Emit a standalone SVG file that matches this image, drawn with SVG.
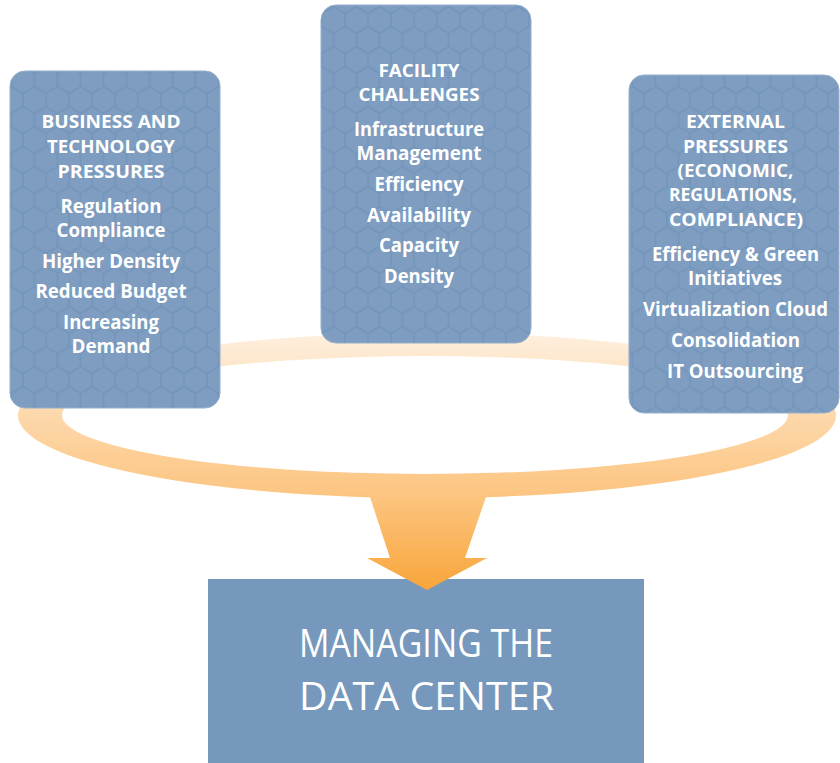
<svg xmlns="http://www.w3.org/2000/svg" xmlns:xlink="http://www.w3.org/1999/xlink" width="840" height="763" viewBox="0 0 840 763">
<defs>
<style>
.box{fill:#7697bc;stroke:#93adcc;stroke-width:1}
.hexfill{fill:url(#hexes)}
.h{font-family:"Open Sans",Lato,"Liberation Sans",sans-serif;font-weight:700;font-size:18px;fill:#ffffff;text-anchor:middle}
.t{font-family:"Open Sans",Lato,"Liberation Sans",sans-serif;font-weight:700;font-size:19px;fill:#ffffff;text-anchor:middle}
.big{font-family:"Open Sans","Liberation Sans",sans-serif;font-weight:400;font-size:38px;fill:#ffffff;text-anchor:middle}
</style>
<path id="hx" d="M0,-12 L10.4,-6 L10.4,6 L0,12 L-10.4,6 L-10.4,-6 Z" fill="#ffffff" fill-opacity="0.06"/>
<pattern id="hexes" patternUnits="userSpaceOnUse" width="23" height="40" x="0" y="0">
<use xlink:href="#hx" x="0" y="0"/><use xlink:href="#hx" x="23" y="0"/>
<use xlink:href="#hx" x="0" y="40"/><use xlink:href="#hx" x="23" y="40"/>
<use xlink:href="#hx" x="11.5" y="20"/>
</pattern>
<linearGradient id="ringGrad" gradientUnits="userSpaceOnUse" x1="0" y1="333" x2="0" y2="498">
<stop offset="0" stop-color="#feefde"/>
<stop offset="0.5" stop-color="#fdd8ab"/>
<stop offset="1" stop-color="#fcc47f"/>
</linearGradient>
<linearGradient id="arrowGrad" gradientUnits="userSpaceOnUse" x1="0" y1="495" x2="0" y2="590">
<stop offset="0" stop-color="#fcc580"/>
<stop offset="1" stop-color="#f9a53a"/>
</linearGradient>
</defs>

<g id="node-datacenter">
<rect x="208" y="579" width="436" height="184" fill="#7698bc"/>
<text class="big" x="426" y="657" textLength="254" lengthAdjust="spacingAndGlyphs">MANAGING THE</text>
<text class="big" x="426.5" y="710" textLength="255" lengthAdjust="spacingAndGlyphs">DATA CENTER</text>
</g>

<g id="connectors">
<path d="M18,415.5 A409,82.5 0 1 0 836,415.5 A409,82.5 0 1 0 18,415.5 Z M62,415 A363,59 0 1 1 788,415 A363,59 0 1 1 62,415 Z" fill="url(#ringGrad)" fill-rule="evenodd"/>
<path d="M369,494 L487,494 L465,558 L487,558 L427,590 L367,558 L390,558 Z" fill="url(#arrowGrad)"/>
</g>

<g id="node-business">
<rect class="box" x="10" y="71" width="210" height="337" rx="15"/>
<rect class="hexfill" x="10" y="71" width="210" height="337" rx="15"/>
<text class="h" x="111" y="128" textLength="139" lengthAdjust="spacingAndGlyphs">BUSINESS AND</text>
<text class="h" x="111" y="153" textLength="128" lengthAdjust="spacingAndGlyphs">TECHNOLOGY</text>
<text class="h" x="111" y="178" textLength="107" lengthAdjust="spacingAndGlyphs">PRESSURES</text>
<text class="t" x="111" y="213" textLength="101" lengthAdjust="spacingAndGlyphs">Regulation</text>
<text class="t" x="111" y="237" textLength="109" lengthAdjust="spacingAndGlyphs">Compliance</text>
<text class="t" x="111" y="268" textLength="138" lengthAdjust="spacingAndGlyphs">Higher Density</text>
<text class="t" x="111" y="298" textLength="151" lengthAdjust="spacingAndGlyphs">Reduced Budget</text>
<text class="t" x="111" y="329" textLength="96" lengthAdjust="spacingAndGlyphs">Increasing</text>
<text class="t" x="111" y="353" textLength="79" lengthAdjust="spacingAndGlyphs">Demand</text>
</g>

<g id="node-facility">
<rect class="box" x="321" y="5" width="210" height="338" rx="15"/>
<rect class="hexfill" x="321" y="5" width="210" height="338" rx="15"/>
<text class="h" x="419" y="77" textLength="81" lengthAdjust="spacingAndGlyphs">FACILITY</text>
<text class="h" x="419" y="101" textLength="121" lengthAdjust="spacingAndGlyphs">CHALLENGES</text>
<text class="t" x="419" y="136" textLength="130" lengthAdjust="spacingAndGlyphs">Infrastructure</text>
<text class="t" x="419" y="160" textLength="125" lengthAdjust="spacingAndGlyphs">Management</text>
<text class="t" x="419" y="191" textLength="89" lengthAdjust="spacingAndGlyphs">Efficiency</text>
<text class="t" x="419" y="222" textLength="104" lengthAdjust="spacingAndGlyphs">Availability</text>
<text class="t" x="419" y="252" textLength="80" lengthAdjust="spacingAndGlyphs">Capacity</text>
<text class="t" x="419" y="283" textLength="70" lengthAdjust="spacingAndGlyphs">Density</text>
</g>

<g id="node-external">
<rect class="box" x="629" y="75" width="210" height="338" rx="15"/>
<rect class="hexfill" x="629" y="75" width="210" height="338" rx="15"/>
<text class="h" x="735.5" y="128" textLength="99" lengthAdjust="spacingAndGlyphs">EXTERNAL</text>
<text class="h" x="735.5" y="153" textLength="105" lengthAdjust="spacingAndGlyphs">PRESSURES</text>
<text class="h" x="735.5" y="177" textLength="116" lengthAdjust="spacingAndGlyphs">(ECONOMIC,</text>
<text class="h" x="733" y="201" textLength="128" lengthAdjust="spacingAndGlyphs">REGULATIONS,</text>
<text class="h" x="736" y="226" textLength="134" lengthAdjust="spacingAndGlyphs">COMPLIANCE)</text>
<text class="t" x="735.5" y="261" textLength="167" lengthAdjust="spacingAndGlyphs">Efficiency &amp; Green</text>
<text class="t" x="735" y="285" textLength="94" lengthAdjust="spacingAndGlyphs">Initiatives</text>
<text class="t" x="735.5" y="316" textLength="185" lengthAdjust="spacingAndGlyphs">Virtualization Cloud</text>
<text class="t" x="735.5" y="347" textLength="129" lengthAdjust="spacingAndGlyphs">Consolidation</text>
<text class="t" x="735" y="378" textLength="136" lengthAdjust="spacingAndGlyphs">IT Outsourcing</text>
</g>
</svg>
